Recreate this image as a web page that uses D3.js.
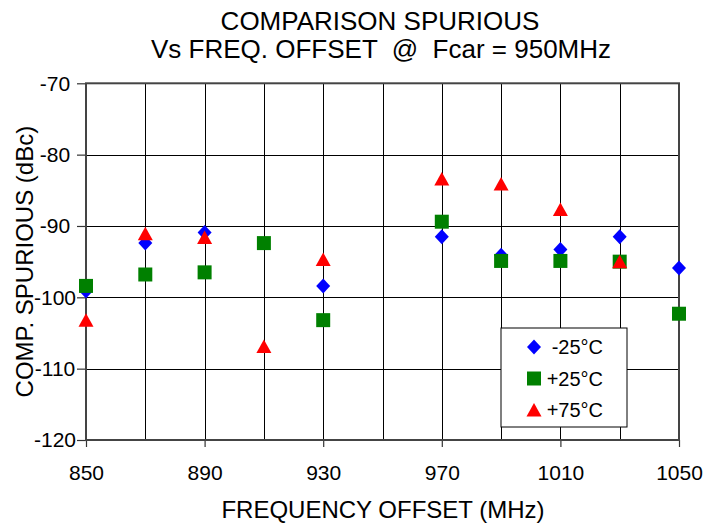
<!DOCTYPE html>
<html>
<head>
<meta charset="utf-8">
<script src="https://cdn.jsdelivr.net/npm/d3@7"></script>
<style>
    body { margin: 0; background: #fff; }
    text { font-family: "Liberation Sans", Arial, Helvetica, sans-serif; fill: #000; }
</style>
</head>
<body>
<div id="chart"></div>
<script>
// frequency offsets (MHz)
const freqs = [850, 870, 890, 910, 930, 950, 970, 990, 1010, 1030, 1050];

// comparison spurious (dBc), null = no point
const minus25 = [-99.1, -92.4, -90.9, null, -98.4, null, -91.5, -94.1, -93.3, -91.5, -95.9];
const plus25  = [-98.4, -96.8, -96.5, -92.4, -103.2, null, -89.4, -94.9, -94.9, -95.0, -102.3];
const plus75  = [-103.2, -91.1, -91.6, -106.9, -94.7, null, -83.4, -84.1, -87.7, -95.0, null];

const xTicks = [850, 890, 930, 970, 1010, 1050];
const xGrid = [870, 890, 910, 930, 950, 970, 990, 1010, 1030];
const yTicks = [-120, -110, -100, -90, -80, -70];

const seriesNames = ["-25°C", "+25°C", "+75°C"];

const width = 704, height = 524;
const plotLeft = 86, plotRight = 679, plotTop = 83.3, plotBottom = 440;

const svg = d3.select("#chart").append("svg")
    .attr("width", width)
    .attr("height", height);

const x = d3.scaleLinear().domain([850, 1050]).range([plotLeft, plotRight]);
const y = d3.scaleLinear().domain([-120, -70]).range([plotBottom, plotTop]);

// marker shapes, centred on their bounding box like the spreadsheet does
const shapes = {
    diamond: "M0,-7.5L7,0L0,7.5L-7,0Z",
    square: "M-7,-7H7V7H-7Z",
    triangle: "M0,-7L7.5,6.5H-7.5Z"
};

const series = [
    { name: seriesNames[0], values: minus25, color: "#0000ff", shape: shapes.diamond },
    { name: seriesNames[1], values: plus25, color: "#008000", shape: shapes.square },
    { name: seriesNames[2], values: plus75, color: "#ff0000", shape: shapes.triangle }
];

// grid
let grid = svg.append("g").attr("id", "grid");
grid.selectAll("line.v")
    .data(xGrid).enter()
    .append("line")
    .attr("x1", d => Math.round(x(d)) + 0.5)
    .attr("x2", d => Math.round(x(d)) + 0.5)
    .attr("y1", plotTop)
    .attr("y2", plotBottom)
    .attr("stroke", "#000")
    .attr("stroke-width", 1);
grid.selectAll("line.h")
    .data(yTicks.slice(1, -1)).enter()
    .append("line")
    .attr("x1", plotLeft)
    .attr("x2", plotRight)
    .attr("y1", d => Math.round(y(d)) + 0.5)
    .attr("y2", d => Math.round(y(d)) + 0.5)
    .attr("stroke", "#000")
    .attr("stroke-width", 1);

// axes
let xAxis = svg.append("g")
    .attr("transform", `translate(0,${plotBottom})`)
    .call(d3.axisBottom(x).tickValues(xTicks).tickSize(7).tickSizeOuter(0).tickFormat(d3.format("d")));
xAxis.select(".domain").remove();
xAxis.selectAll("line").attr("stroke", "#333").attr("stroke-width", 1.2);
xAxis.selectAll("text")
    .attr("y", 40)
    .attr("dy", null)
    .style("font-size", "21px");

// hyphen instead of d3's unicode minus
let yAxis = svg.append("g")
    .attr("transform", `translate(${plotLeft},0)`)
    .call(d3.axisLeft(y).tickValues(yTicks).tickSize(9).tickSizeOuter(0).tickFormat(d => String(d)));
yAxis.select(".domain").remove();
yAxis.selectAll("line").attr("stroke", "#333").attr("stroke-width", 1.2);
yAxis.selectAll("text")
    .attr("x", -31)
    .attr("text-anchor", "middle")
    .style("font-size", "21px");
yAxis.attr("font-family", null).attr("text-anchor", null);
xAxis.attr("font-family", null);

// plot frame
svg.append("rect")
    .attr("x", plotLeft)
    .attr("y", plotTop)
    .attr("width", plotRight - plotLeft)
    .attr("height", plotBottom - plotTop)
    .attr("fill", "none")
    .attr("stroke", "#444")
    .attr("stroke-width", 2);

// markers
series.forEach(s => {
    svg.append("g").selectAll("path")
        .data(freqs.map((f, i) => [f, s.values[i]]).filter(d => d[1] !== null)).enter()
        .append("path")
        .attr("d", s.shape)
        .attr("transform", d => `translate(${x(d[0])},${y(d[1])})`)
        .attr("fill", s.color);
});

// titles
svg.append("text")
    .attr("x", 380).attr("y", 30)
    .attr("text-anchor", "middle")
    .style("font-size", "26px")
    .text("COMPARISON SPURIOUS");
svg.append("text")
    .attr("x", 381).attr("y", 58)
    .attr("text-anchor", "middle")
    .style("font-size", "26px")
    .style("white-space", "pre")
    .text("Vs FREQ. OFFSET  @  Fcar = 950MHz");

svg.append("text")
    .attr("x", 383).attr("y", 518)
    .attr("text-anchor", "middle")
    .style("font-size", "24px")
    .text("FREQUENCY OFFSET (MHz)");

svg.append("text")
    .attr("transform", `translate(33,${(plotTop + plotBottom) / 2}) rotate(-90)`)
    .attr("text-anchor", "middle")
    .style("font-size", "24px")
    .text("COMP. SPURIOUS (dBc)");

// legend
let legend = svg.append("g").attr("transform", "translate(501,328)");
legend.append("rect")
    .attr("width", 126)
    .attr("height", 99)
    .attr("fill", "#fff")
    .attr("stroke", "#000")
    .attr("stroke-width", 1);
series.forEach((s, i) => {
    let row = legend.append("g").attr("transform", `translate(0,${19 + i * 31.5})`);
    row.append("path")
        .attr("d", s.shape)
        .attr("transform", "translate(33,0)")
        .attr("fill", s.color);
    row.append("text")
        .attr("x", 102)
        .attr("y", 7)
        .attr("text-anchor", "end")
        .style("font-size", "20px")
        .text(s.name);
});
</script>
</body>
</html>
